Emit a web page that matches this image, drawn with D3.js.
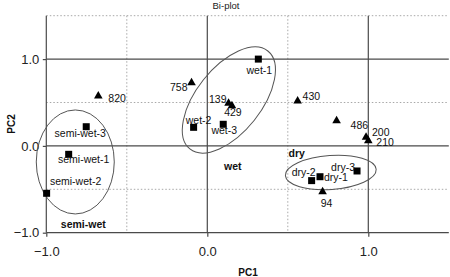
<!DOCTYPE html>
<html>
<head>
<meta charset="utf-8">
<script src="https://cdn.jsdelivr.net/npm/d3@7"></script>
<style>
  html, body { margin: 0; padding: 0; background: #fff; }
  svg { display: block; font-family: "Liberation Sans", Arial, sans-serif; }
</style>
</head>
<body>
<svg id="chart" width="450" height="277"></svg>
<script>
// ---- data ----
const sampleNames = ["wet-1", "wet-2", "wet-3", "semi-wet-1", "semi-wet-2", "semi-wet-3", "dry-1", "dry-2", "dry-3"];
const samplePC1 = [0.317, -0.085, 0.099, -0.861, -0.998, -0.752, 0.700, 0.648, 0.930];
const samplePC2 = [1.000, 0.214, 0.249, -0.097, -0.546, 0.221, -0.355, -0.400, -0.289];

const variableNames = ["820", "758", "139", "429", "430", "486", "200", "210", "94"];
const variablePC1 = [-0.677, -0.098, 0.132, 0.153, 0.561, 0.803, 0.986, 1.000, 0.716];
const variablePC2 = [0.575, 0.728, 0.491, 0.463, 0.517, 0.290, 0.099, 0.060, -0.528];

const groupNames = ["semi-wet", "wet", "dry"];
const groupPC1 = [-0.820, 0.134, 0.767];
const groupPC2 = [-0.185, 0.529, -0.306];

const xTicks = [-1, 0, 1];
const yTicks = [-1, 0, 1];
const xDotted = [-0.5, 0.5];
const yDotted = [-0.5, 0.5, 1.5];

// ---- layout / styles (not data) ----
const svg = d3.select("#chart");
const x = d3.scaleLinear().domain([-1, 1.5]).range([46.3, 448.8]);
const y = d3.scaleLinear().domain([-1, 1.5]).range([232.7, 15.7]);
const fmt = d3.format(".1f");

// label placement per point: [dx, dy, anchor]
const sampleLabelPos = {
  "wet-1": [1, 15, "middle"], "wet-2": [5, -3, "middle"], "wet-3": [1, 10, "middle"],
  "semi-wet-1": [15, 9, "middle"], "semi-wet-2": [29, -8, "middle"], "semi-wet-3": [-6, 10, "middle"],
  "dry-1": [4, 4, "start"], "dry-2": [-8, -5, "middle"], "dry-3": [-14, 0, "middle"]
};
const variableLabelPos = {
  "820": [10, 6, "start"], "758": [-4, 8, "end"], "139": [-2, 0, "end"], "429": [1, 10, "middle"],
  "430": [5, -1, "start"], "486": [14, 8, "start"], "200": [6, -1.5, "start"], "210": [8, 5.5, "start"],
  "94": [4, 15, "middle"]
};
const groupLabelPos = {"semi-wet": [8, 66], "wet": [4, 70], "dry": [-34, -15]};
const ellipseGeom = {"semi-wet": [39, 52, 0], "wet": [62.6, 32.5, -51.5], "dry": [45.5, 17, -4]};

const solid = "#4a4a4a", dotted = "#a8a8a8";

// dotted grid
svg.append("g").selectAll("line").data(xDotted).join("line")
  .attr("x1", d => x(d)).attr("x2", d => x(d))
  .attr("y1", y(1.5)).attr("y2", y(-1))
  .attr("stroke", dotted).attr("stroke-width", 1).attr("stroke-dasharray", "1.5,2");
svg.append("g").selectAll("line").data(yDotted).join("line")
  .attr("x1", x(-1)).attr("x2", x(1.5))
  .attr("y1", d => y(d)).attr("y2", d => y(d))
  .attr("stroke", dotted).attr("stroke-width", 1).attr("stroke-dasharray", "1.5,2");

// solid reference lines
svg.append("g").selectAll("line").data(xTicks).join("line")
  .attr("x1", d => x(d)).attr("x2", d => x(d))
  .attr("y1", y(1.5)).attr("y2", y(-1))
  .attr("stroke", solid).attr("stroke-width", 1.2);
svg.append("g").selectAll("line").data(yTicks).join("line")
  .attr("x1", x(-1)).attr("x2", x(1.5))
  .attr("y1", d => y(d)).attr("y2", d => y(d))
  .attr("stroke", solid).attr("stroke-width", 1.2);

// axes (ticks + labels)
const xAxis = svg.append("g").attr("transform", `translate(0,${y(-1)})`)
  .call(d3.axisBottom(x).tickValues(xTicks).tickFormat(fmt).tickSizeInner(4).tickSizeOuter(0));
const yAxis = svg.append("g").attr("transform", `translate(${x(-1)},0)`)
  .call(d3.axisLeft(y).tickValues(yTicks).tickFormat(fmt).tickSizeInner(3.5).tickSizeOuter(0));
[xAxis, yAxis].forEach(g => {
  g.select(".domain").remove();
  g.selectAll(".tick line").attr("stroke", solid).attr("stroke-width", 1.2);
  g.selectAll(".tick text").attr("font-family", "'Liberation Sans', Arial, sans-serif")
    .attr("font-size", 13).attr("fill", "#222");
});
xAxis.selectAll(".tick text").attr("y", 14);
yAxis.selectAll(".tick text").attr("x", -7);

// ellipses
const groups = groupNames.map((n, i) => ({name: n, px: groupPC1[i], py: groupPC2[i]}));
svg.append("g").selectAll("ellipse").data(groups).join("ellipse")
  .attr("transform", d => `translate(${x(d.px)},${y(d.py)}) rotate(${ellipseGeom[d.name][2]})`)
  .attr("rx", d => ellipseGeom[d.name][0]).attr("ry", d => ellipseGeom[d.name][1])
  .attr("fill", "none").attr("stroke", "#555").attr("stroke-width", 1);

// group labels
svg.append("g").selectAll("text").data(groups).join("text")
  .attr("x", d => x(d.px) + groupLabelPos[d.name][0])
  .attr("y", d => y(d.py) + groupLabelPos[d.name][1])
  .attr("text-anchor", "middle").attr("font-size", 10.5).attr("font-weight", "bold")
  .attr("fill", "#111").text(d => d.name);

// samples (squares)
const samples = sampleNames.map((n, i) => ({name: n, px: samplePC1[i], py: samplePC2[i]}));
svg.append("g").selectAll("rect").data(samples).join("rect")
  .attr("x", d => x(d.px) - 3.5).attr("y", d => y(d.py) - 3.5)
  .attr("width", 7).attr("height", 7).attr("fill", "#000");
svg.append("g").selectAll("text").data(samples).join("text")
  .attr("x", d => x(d.px) + sampleLabelPos[d.name][0])
  .attr("y", d => y(d.py) + sampleLabelPos[d.name][1])
  .attr("text-anchor", d => sampleLabelPos[d.name][2])
  .attr("font-size", 10.5).attr("fill", "#111").text(d => d.name);

// variables (triangles)
const variables = variableNames.map((n, i) => ({name: n, px: variablePC1[i], py: variablePC2[i]}));
const tri = d3.symbol().type(d3.symbolTriangle).size(32);
svg.append("g").selectAll("path").data(variables).join("path")
  .attr("transform", d => `translate(${x(d.px)},${y(d.py)})`)
  .attr("d", tri).attr("fill", "#000");
svg.append("g").selectAll("text").data(variables).join("text")
  .attr("x", d => x(d.px) + variableLabelPos[d.name][0])
  .attr("y", d => y(d.py) + variableLabelPos[d.name][1])
  .attr("text-anchor", d => variableLabelPos[d.name][2])
  .attr("font-size", 10.5).attr("fill", "#111").text(d => d.name);

// titles
svg.append("text").attr("x", 226).attr("y", 9).attr("text-anchor", "middle")
  .attr("font-size", 9.5).attr("fill", "#222").text("Bi-plot");
svg.append("text").attr("x", 248).attr("y", 276).attr("text-anchor", "middle")
  .attr("font-size", 10).attr("font-weight", "bold").attr("fill", "#111").text("PC1");
svg.append("text").attr("transform", "translate(15,124) rotate(-90)").attr("text-anchor", "middle")
  .attr("font-size", 10).attr("font-weight", "bold").attr("fill", "#111").text("PC2");
</script>
</body>
</html>
